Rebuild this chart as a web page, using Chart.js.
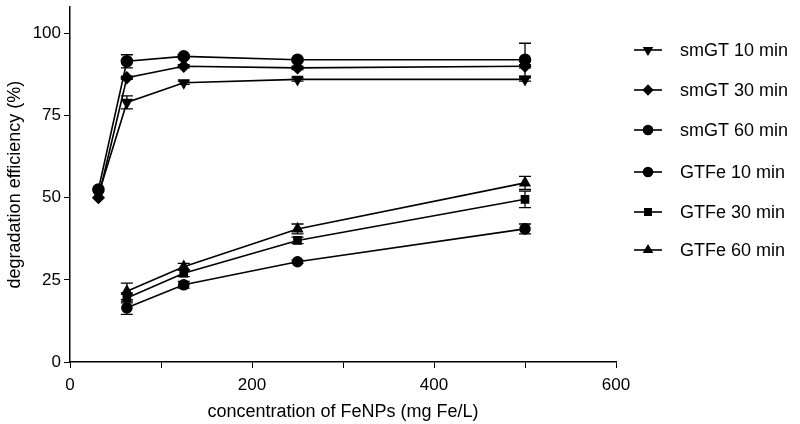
<!DOCTYPE html>
<html>
<head>
<title>Degradation efficiency</title>
<script src="https://cdn.jsdelivr.net/npm/chart.js"></script>
<style>
  body { margin: 0; background: #fff; }
  #wrap { width: 800px; height: 424px; }
</style>
</head>
<body>
<div id="wrap"><canvas id="chart"></canvas></div>
<script>
const conc = [31.25, 62.5, 125, 250, 500];
const labels = ['smGT 10 min', 'smGT 30 min', 'smGT 60 min', 'GTFe 10 min', 'GTFe 30 min', 'GTFe 60 min'];
const smGT10 = [51, 79, 85, 86, 86];
const smGT30 = [50, 86.5, 90, 89.5, 90];
const smGT60 = [52.5, 91.5, 93, 92, 92];
const GTFe10 = [null, 16.5, 23.5, 30.5, 40.5];
const GTFe30 = [null, 19.5, 27, 37, 49.5];
const GTFe60 = [null, 21.5, 29, 40.5, 54.5];
// standard deviations
const smGT10err = [0, 2, 0.5, 0.5, 0.5];
const smGT30err = [0, 0.5, 0.5, 0.5, 0.5];
const smGT60err = [0, 2, 0.5, 0.5, 5];
const GTFe10err = [0, 2, 1, 0.5, 1.5];
const GTFe30err = [0, 1.5, 1, 1, 2.5];
const GTFe60err = [0, 2.5, 1, 1.5, 2];

const series = [smGT10, smGT30, smGT60, GTFe10, GTFe30, GTFe60];
const errs = [smGT10err, smGT30err, smGT60err, GTFe10err, GTFe30err, GTFe60err];
const markers = [
  { style: 'triangle', rot: 180, r: 5.5 },
  { style: 'rectRot', rot: 0, r: 5.5 },
  { style: 'circle', rot: 0, r: 5.5 },
  { style: 'circle', rot: 0, r: 5 },
  { style: 'rect', rot: 0, r: 5 },
  { style: 'triangle', rot: 0, r: 5.5 }
];

const datasets = series.map((s, i) => ({
  label: labels[i],
  data: conc.map((x, j) => ({ x: x, y: s[j] })).filter(p => p.y !== null),
  err: errs[i].filter((e, j) => s[j] !== null),
  borderColor: '#000',
  backgroundColor: '#000',
  borderWidth: 1.6,
  pointStyle: markers[i].style,
  rotation: markers[i].rot,
  pointRadius: markers[i].r,
  showLine: true,
  tension: 0
}));

const errorBars = {
  id: 'errorBars',
  afterDatasetsDraw(chart) {
    const ctx = chart.ctx, y = chart.scales.y, x = chart.scales.x;
    ctx.save();
    ctx.strokeStyle = '#000';
    ctx.lineWidth = 1.3;
    chart.data.datasets.forEach(ds => {
      ds.data.forEach((p, j) => {
        const e = ds.err[j];
        if (!e) return;
        const px = x.getPixelForValue(p.x);
        const top = y.getPixelForValue(p.y + e), bot = y.getPixelForValue(p.y - e);
        ctx.beginPath();
        ctx.moveTo(px, top); ctx.lineTo(px, bot);
        ctx.moveTo(px - 6, top); ctx.lineTo(px + 6, top);
        ctx.moveTo(px - 6, bot); ctx.lineTo(px + 6, bot);
        ctx.stroke();
      });
    });
    ctx.restore();
  }
};

const sideLegend = {
  id: 'sideLegend',
  afterDraw(chart) {
    const ctx = chart.ctx;
    const rows = [50, 90, 130, 172, 212, 250];
    ctx.save();
    ctx.font = '18px "Liberation Sans", Arial, sans-serif';
    ctx.textBaseline = 'middle';
    ctx.fillStyle = '#000';
    ctx.strokeStyle = '#000';
    ctx.lineWidth = 1.6;
    chart.data.datasets.forEach((ds, i) => {
      const yy = rows[i];
      ctx.beginPath();
      ctx.moveTo(634, yy); ctx.lineTo(662, yy);
      ctx.stroke();
      Chart.helpers.drawPoint(ctx, { pointStyle: ds.pointStyle, rotation: ds.rotation, radius: 4.5, borderWidth: 1 }, 648, yy);
      ctx.fill();
      ctx.fillText(ds.label, 680, yy + 1);
    });
    ctx.restore();
  }
};

const font = { family: '"Liberation Sans", Arial, sans-serif', size: 17 };

new Chart(document.getElementById('chart').getContext('2d'), {
  type: 'scatter',
  data: { datasets: datasets },
  options: {
    responsive: true,
    maintainAspectRatio: false,
    animation: false,
    layout: { padding: { top: 0, right: 184, left: 0, bottom: 0 } },
    plugins: { legend: { display: false }, tooltip: { enabled: false } },
    scales: {
      x: {
        type: 'linear', min: 0, max: 600,
        afterFit: s => { s.height = 62; },
        ticks: { stepSize: 100, color: '#000', font: font, maxRotation: 0, padding: 7,
          callback: v => (v % 200 === 0 ? v : '') },
        grid: { drawOnChartArea: false, drawTicks: true, tickLength: 6, color: '#000' },
        border: { color: '#000', width: 1.5 },
        title: { display: true, text: 'concentration of FeNPs (mg Fe/L)', color: '#000', font: { family: font.family, size: 18 }, padding: { top: 6, bottom: 1 } }
      },
      y: {
        type: 'linear', min: 0, max: 108,
        afterFit: s => { s.width = 70; s.paddingTop = 0; },
        afterBuildTicks: s => { s.ticks = s.ticks.filter(t => t.value % 25 === 0); },
        ticks: { stepSize: 25, color: '#000', font: font, padding: 3 },
        grid: { drawOnChartArea: false, drawTicks: true, tickLength: 6, color: '#000' },
        border: { color: '#000', width: 1.5 },
        title: { display: true, text: 'degradation efficiency (%)', color: '#000', font: { family: font.family, size: 18 }, padding: { bottom: 4 } }
      }
    }
  },
  plugins: [errorBars, sideLegend]
});
</script>
</body>
</html>
